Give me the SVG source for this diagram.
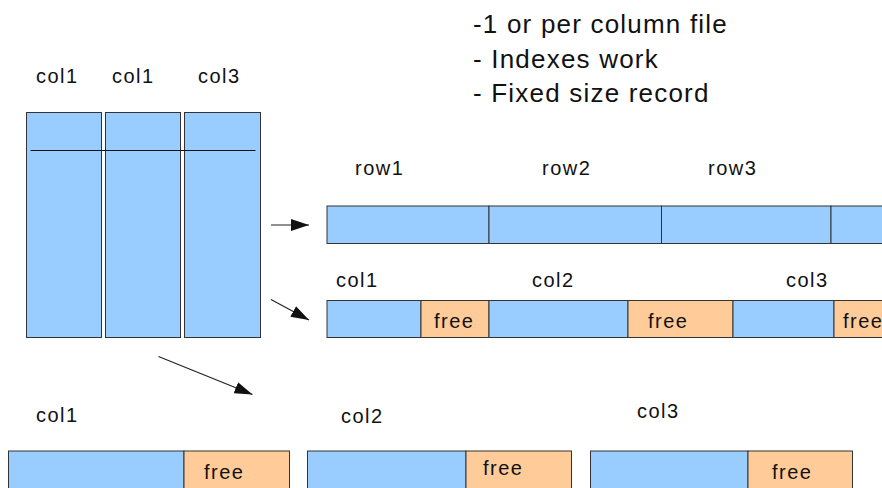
<svg xmlns="http://www.w3.org/2000/svg" width="882" height="488" viewBox="0 0 882 488">
<style>
.b{fill:#99ccff;stroke:#333;stroke-width:1}
.f{fill:#ffcc99;stroke:#333;stroke-width:1}
.t{font-family:"Liberation Sans",Arial,sans-serif;font-size:20px;letter-spacing:1.5px;fill:#111}
.h{font-family:"Liberation Sans",Arial,sans-serif;font-size:26px;letter-spacing:1.2px;fill:#111}
.c{stroke:#222;stroke-width:1.2;fill:none}
</style>
<defs>
<marker id="ah" viewBox="0 0 18 12" refX="18" refY="6" markerWidth="18" markerHeight="12" markerUnits="userSpaceOnUse" orient="auto">
<path d="M0,0 L18,6 L0,12 Z" fill="#111"/>
</marker>
</defs>
<rect width="882" height="488" fill="#fff"/>
<g id="notes">
<text class="h" x="473" y="33">-1 or per column file</text>
<text class="h" x="473" y="68">- Indexes work</text>
<text class="h" x="473" y="102">- Fixed size record</text>
</g>
<g id="table">
<text class="t" x="36" y="83">col1</text>
<text class="t" x="112" y="83">col1</text>
<text class="t" x="198" y="83">col3</text>
<rect class="b" x="26.5" y="112.5" width="75" height="225"/>
<rect class="b" x="105.5" y="112.5" width="75" height="225"/>
<rect class="b" x="184.5" y="112.5" width="76" height="225"/>
<line x1="30.5" y1="150.5" x2="255.5" y2="150.5" stroke="#111" stroke-width="1"/>
</g>
<g id="rowstore">
<text class="t" x="355" y="175">row1</text>
<text class="t" x="542" y="175">row2</text>
<text class="t" x="708" y="175">row3</text>
<rect class="b" x="327" y="206" width="162" height="37.5"/>
<rect class="b" x="489" y="206" width="172.5" height="37.5"/>
<rect class="b" x="661.5" y="206" width="169.5" height="37.5"/>
<rect class="b" x="831" y="206" width="70" height="37.5"/>
</g>
<g id="colstore">
<text class="t" x="336" y="287">col1</text>
<text class="t" x="532" y="287">col2</text>
<text class="t" x="786" y="287">col3</text>
<rect class="b" x="327" y="300.5" width="94" height="37"/>
<rect class="f" x="421" y="300.5" width="68" height="37"/>
<rect class="b" x="489" y="300.5" width="139" height="37"/>
<rect class="f" x="628" y="300.5" width="105" height="37"/>
<rect class="b" x="733" y="300.5" width="101" height="37"/>
<rect class="f" x="834" y="300.5" width="70" height="37"/>
<text class="t" x="434" y="328">free</text>
<text class="t" x="648" y="328">free</text>
<text class="t" x="843" y="328">free</text>
</g>
<g id="file1">
<text class="t" x="36" y="422">col1</text>
<rect class="b" x="8.5" y="451" width="175.5" height="50"/>
<rect class="f" x="184" y="451" width="105.5" height="50"/>
<text class="t" x="204" y="479">free</text>
</g>
<g id="file2">
<text class="t" x="341" y="423">col2</text>
<rect class="b" x="307.5" y="451" width="158.5" height="50"/>
<rect class="f" x="466" y="451" width="105.5" height="50"/>
<text class="t" x="483" y="475">free</text>
</g>
<g id="file3">
<text class="t" x="637" y="418">col3</text>
<rect class="b" x="590.5" y="451" width="157.5" height="50"/>
<rect class="f" x="748" y="451" width="104.5" height="50"/>
<text class="t" x="772" y="479">free</text>
</g>
<g id="connectors">
<line class="c" x1="271" y1="225" x2="309" y2="225" marker-end="url(#ah)"/>
<line class="c" x1="271" y1="299.5" x2="309" y2="320" marker-end="url(#ah)"/>
<line class="c" x1="158.5" y1="356.5" x2="252.5" y2="394.5" marker-end="url(#ah)"/>
</g>
</svg>
